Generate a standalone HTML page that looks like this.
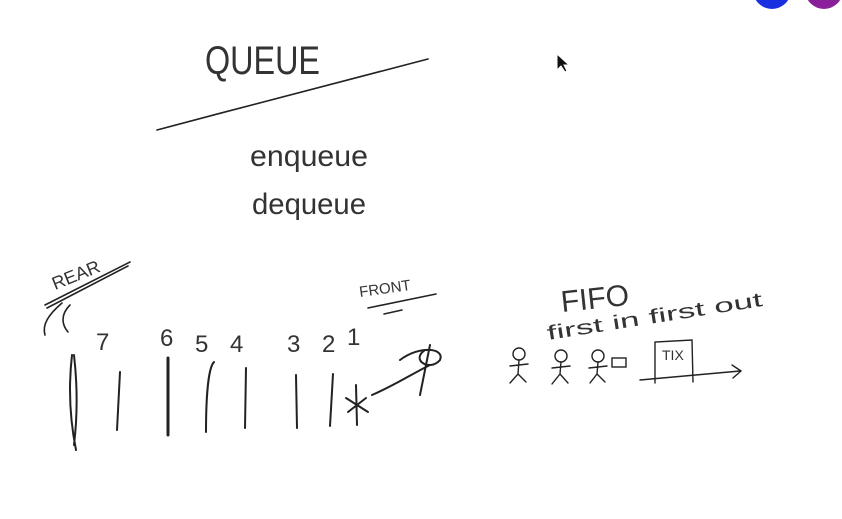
<!DOCTYPE html>
<html><head><meta charset="utf-8"><style>
html,body{margin:0;padding:0;background:#fff;}
svg{display:block;}
text{font-family:"Liberation Sans",sans-serif;fill:#333;}
</style></head><body>
<svg width="842" height="519" viewBox="0 0 842 519" fill="none" stroke="#222" stroke-width="1.6" stroke-linecap="round">
<rect x="0" y="0" width="842" height="519" fill="#fff" stroke="none"/>
<circle cx="772" cy="-10" r="19" fill="#1a2fe0" stroke="none"/>
<circle cx="824" cy="-10" r="19" fill="#8a1f9a" stroke="none"/>
<path d="M557 54 L557 70 L561 66 L565 72 L567 71 L564 65 L569 65 Z" fill="#111" stroke="#fff" stroke-width="1"/>
<text x="205" y="74" font-size="40" stroke="none" textLength="115" lengthAdjust="spacingAndGlyphs">QUEUE</text>
<path d="M157 130 C250 105 350 80 428 59"/>
<text x="250" y="166" font-size="30" stroke="none" textLength="118" lengthAdjust="spacingAndGlyphs">enqueue</text>
<text x="252" y="214" font-size="30" stroke="none" textLength="114" lengthAdjust="spacingAndGlyphs">dequeue</text>
<text x="55" y="290" font-size="18" stroke="none" transform="rotate(-22 55 290)">REAR</text>
<path d="M45 305 L130 262 M47 308 L128 266"/>
<path d="M62 303 C48 315 42 325 45 335 M70 305 C60 315 62 325 68 332"/>
<text x="360" y="297" font-size="15" stroke="none" transform="rotate(-8 360 297)">FRONT</text>
<path d="M368 308 L436 294 M384 314 L402 310"/>
<g font-size="24">
<text x="96" y="350" stroke="none">7</text><text x="160" y="346" stroke="none">6</text><text x="195" y="352" stroke="none">5</text><text x="230" y="352" stroke="none">4</text><text x="287" y="352" stroke="none">3</text><text x="322" y="352" stroke="none">2</text><text x="347" y="345" stroke="none">1</text>
</g>
<g stroke-width="2">
<path d="M72 355 C68 390 70 420 76 450 M74 355 C78 390 77 420 74 445"/>
<path d="M120 372 L117 430"/>
<path d="M168 358 L168 435" stroke-width="3"/>
<path d="M214 362 C208 368 206 400 206 432"/>
<path d="M246 368 L245 428"/>
<path d="M296 375 L297 428"/>
<path d="M333 374 L330 426"/>
<path d="M356 385 L357 425 M346 398 L368 412 M348 412 L366 398"/>
<path d="M372 395 C395 385 410 375 430 365 M400 360 C420 345 445 348 440 360 C430 372 410 360 425 350 M430 345 L420 395"/>
</g>
<text x="562" y="312" font-size="30" stroke="none" transform="rotate(-6 562 312)">FIFO</text>
<text x="548" y="340" font-size="20" stroke="none" transform="rotate(-9 548 340)" textLength="218" lengthAdjust="spacingAndGlyphs">first in first out</text>
<g stroke-width="1.4">
<circle cx="519" cy="354" r="6"/><path d="M519 360 L518 374 M510 366 L528 364 M518 374 L510 383 M518 374 L526 382"/>
<circle cx="561" cy="356" r="6"/><path d="M561 362 L560 374 M552 368 L570 366 M560 374 L552 384 M560 374 L568 383"/>
<circle cx="598" cy="356" r="6"/><path d="M598 362 L597 374 M589 368 L607 366 M597 374 L590 383 M597 374 L605 382"/>
<rect x="612" y="358" width="14" height="9"/>
<path d="M655 383 L655 342 L692 340 L693 382"/>
<text x="662" y="360" font-size="14" stroke="none">TIX</text>
<path d="M640 380 L740 371 M732 365 L741 371 L733 378"/>
</g>
</svg>
</body></html>
